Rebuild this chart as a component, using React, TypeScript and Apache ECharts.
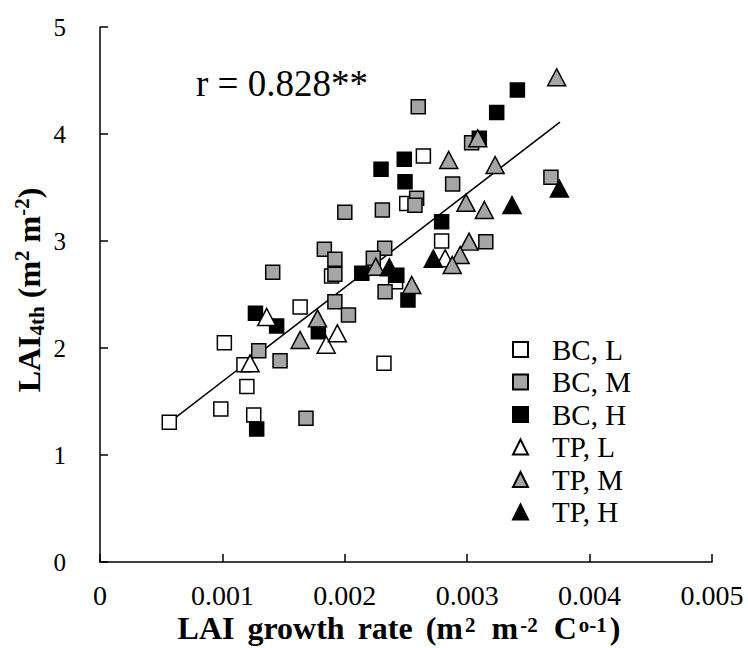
import React, { useEffect, useRef } from "react";
import * as echarts from "echarts";

// ---- data ----
const seriesNames = ["BC, L", "BC, M", "BC, H", "TP, L", "TP, M", "TP, H"];

const bcL: [number, number][] = [
  [0.000566, 1.306], [0.000987, 1.43], [0.001256, 1.374], [0.0012, 1.64],
  [0.001176, 1.844], [0.001016, 2.05], [0.001635, 2.383], [0.00232, 1.857],
  [0.001892, 2.673], [0.002415, 2.62], [0.002506, 3.35], [0.002642, 3.794],
  [0.002791, 3.0],
];
const bcM: [number, number][] = [
  [0.001297, 1.975], [0.001471, 1.882], [0.001683, 1.343], [0.001919, 2.433],
  [0.00203, 2.308], [0.002329, 2.526], [0.001411, 2.708], [0.001919, 2.69],
  [0.001833, 2.922], [0.001919, 2.829], [0.002326, 2.932], [0.002233, 2.838],
  [0.002, 3.268], [0.002307, 3.29], [0.0026, 4.255], [0.002587, 3.4],
  [0.002573, 3.334], [0.002881, 3.533], [0.003036, 3.919], [0.003684, 3.595],
  [0.003152, 2.994],
];
const bcH: [number, number][] = [
  [0.00128, 1.243], [0.00127, 2.324], [0.001443, 2.206], [0.001784, 2.152],
  [0.002516, 2.449], [0.002139, 2.698], [0.002425, 2.68], [0.002296, 3.67],
  [0.002486, 3.763], [0.002492, 3.554], [0.002791, 3.18], [0.003099, 3.96],
  [0.003241, 4.2], [0.00341, 4.411],
];
const tpL: [number, number][] = [
  [0.001226, 1.857], [0.001362, 2.29], [0.001848, 2.03], [0.001939, 2.137],
  [0.00282, 2.838],
];
const tpM: [number, number][] = [
  [0.001635, 2.075], [0.001777, 2.277], [0.002547, 2.589], [0.002253, 2.76],
  [0.003731, 4.53], [0.003086, 3.96], [0.002849, 3.757], [0.003228, 3.71],
  [0.00299, 3.358], [0.00314, 3.29], [0.003015, 2.994], [0.002942, 2.869],
  [0.002878, 2.776],
];
const tpH: [number, number][] = [
  [0.002364, 2.754], [0.003753, 3.49], [0.003366, 3.336], [0.002723, 2.835],
];

// linear fit shown in the figure
const fitSlope = 879;
const fitIntercept = 0.808;
const fitRange = [0.000566, 0.003758];
const rText = "r = 0.828**";

const FONT = "'Liberation Serif', 'Times New Roman', serif";
const GRAY = "#a5a5a5";

export default function App() {
  const ref = useRef<HTMLDivElement>(null);
  useEffect(() => {
    if (!ref.current) return;
    const chart = echarts.init(ref.current, null, { renderer: "svg" });
    const sq = (name: string, data: [number, number][], fill: string) => ({
      name,
      type: "scatter",
      data,
      symbol: "rect",
      symbolSize: 14,
      itemStyle: { color: fill, borderColor: "#000", borderWidth: 1.5, opacity: 1 },
      emphasis: { disabled: true },
    });
    const tri = (name: string, data: [number, number][], fill: string) => ({
      name,
      type: "scatter",
      data,
      symbol: "triangle",
      symbolSize: [18, 17],
      itemStyle: { color: fill, borderColor: "#000", borderWidth: 1.5, opacity: 1 },
      emphasis: { disabled: true },
    });
    const fitData = fitRange.map((x) => [x, fitIntercept + fitSlope * x]);
    const bold = { fontFamily: FONT, fontWeight: "bold" as const };

    chart.setOption({
      animation: false,
      backgroundColor: "#fff",
      grid: { left: 100, right: 36, top: 27, bottom: 86, containLabel: false },
      xAxis: {
        type: "value",
        min: 0,
        max: 0.005,
        interval: 0.001,
        axisLine: { lineStyle: { color: "#000", width: 1.5 } },
        axisTick: { inside: true, length: 8, lineStyle: { color: "#000", width: 1.5 } },
        splitLine: { show: false },
        axisLabel: {
          color: "#000",
          fontFamily: FONT,
          fontSize: 28,
          margin: 19,
          formatter: (v: number) => (v === 0 ? "0" : v.toFixed(3)),
        },
      },
      yAxis: {
        type: "value",
        min: 0,
        max: 5,
        interval: 1,
        axisLine: { show: true, lineStyle: { color: "#000", width: 1.5 } },
        axisTick: { show: true, inside: true, length: 8, lineStyle: { color: "#000", width: 1.5 } },
        splitLine: { show: false },
        axisLabel: { color: "#000", fontFamily: FONT, fontSize: 25, margin: 34 },
      },
      legend: {
        data: seriesNames,
        orient: "vertical",
        left: 507,
        top: 330,
        itemWidth: 15,
        itemHeight: 15,
        itemGap: 3.5,
        selectedMode: false,
        textStyle: { fontFamily: FONT, fontSize: 29, color: "#000", lineHeight: 28, padding: [0, 0, 0, 19] },
      },
      graphic: [
        {
          type: "text",
          x: 196,
          y: 83,
          style: { text: rText, font: `37px ${FONT}`, fill: "#000", verticalAlign: "middle", align: "left" },
        },
        {
          type: "text",
          x: 399,
          y: 629,
          style: {
            text: "{b|LAI}{s| }{b|growth}{s| }{b|rate}{s| }{b|(m}{sup|2}{s| }{b|m}{sup|-2}{s| }{b|C}{sup|o-1}{b|)}",
            align: "center",
            verticalAlign: "middle",
            fill: "#000",
            rich: {
              b: { ...bold, fontSize: 32, lineHeight: 30, verticalAlign: "bottom" },
              s: { ...bold, fontSize: 32, lineHeight: 30, width: 13, verticalAlign: "bottom" },
              sup: { ...bold, fontSize: 21, lineHeight: 19, verticalAlign: "top", padding: [0, 3, 0, 2] },
            },
          },
        },
        {
          type: "text",
          x: 29,
          y: 290,
          rotation: Math.PI / 2,
          style: {
            text: "{b|LAI}{sub|4th}{b| (m}{sup|2}{b| m}{sup|-2}{b|)}",
            align: "center",
            verticalAlign: "middle",
            fill: "#000",
            rich: {
              b: { ...bold, fontSize: 32, lineHeight: 36, verticalAlign: "middle" },
              sub: { ...bold, fontSize: 21, lineHeight: 20, verticalAlign: "bottom" },
              sup: { ...bold, fontSize: 21, lineHeight: 20, verticalAlign: "top" },
            },
          },
        },
      ],
      series: [
        sq(seriesNames[0], bcL, "#fff"),
        sq(seriesNames[1], bcM, GRAY),
        sq(seriesNames[2], bcH, "#000"),
        tri(seriesNames[3], tpL, "#fff"),
        tri(seriesNames[4], tpM, GRAY),
        tri(seriesNames[5], tpH, "#000"),
        {
          name: "fit",
          type: "line",
          data: fitData,
          symbol: "none",
          silent: true,
          z: 1,
          lineStyle: { color: "#000", width: 1.5 },
        },
      ],
    });
    return () => chart.dispose();
  }, []);
  return <div ref={ref} style={{ width: 748, height: 648, position: "absolute", left: 0, top: 0 }} />;
}
